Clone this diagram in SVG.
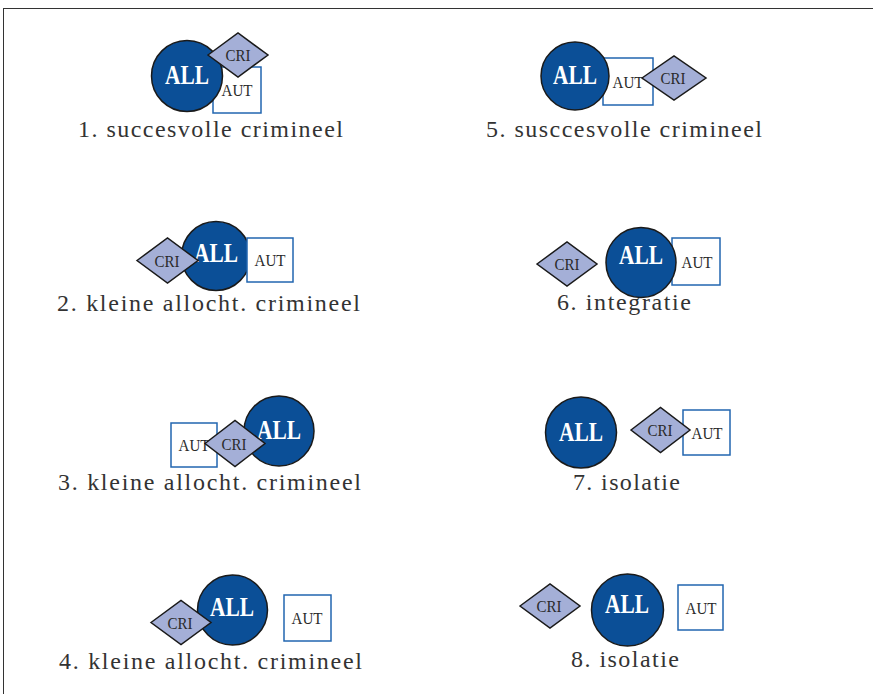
<svg xmlns="http://www.w3.org/2000/svg" width="873" height="694" viewBox="0 0 873 694">
<style>
.all{fill:#0b4f97;stroke:#1a1a1a;stroke-width:1.5}
.cri{fill:#a4afd7;stroke:#1a1a1a;stroke-width:1.5}
.aut{fill:#ffffff;stroke:#2266b0;stroke-width:1.5}
.tall{font-family:"Liberation Serif",serif;font-weight:bold;font-size:27px;fill:#ffffff;text-anchor:middle}
.tsm{font-family:"Liberation Serif",serif;font-size:17px;fill:#2a2a2a;text-anchor:middle}
.lab{font-family:"Liberation Serif",serif;font-size:24px;fill:#333333;text-anchor:middle}
</style>
<rect x="3.5" y="8.5" width="880" height="700" fill="#ffffff" stroke="#333333" stroke-width="1"/>

<g id="panel1">
  <g id="p1-aut"><rect class="aut" x="213" y="67" width="48" height="46"/><text class="tsm" x="237" y="96" textLength="31" lengthAdjust="spacingAndGlyphs">AUT</text></g>
  <g id="p1-all"><circle class="all" cx="187" cy="76" r="35.5"/><text class="tall" x="187" y="84" textLength="44" lengthAdjust="spacingAndGlyphs">ALL</text></g>
  <g id="p1-cri"><polygon class="cri" points="208,55 238,33 268,55 238,77"/><text class="tsm" x="238" y="61" textLength="25" lengthAdjust="spacingAndGlyphs">CRI</text></g>
  <text class="lab" x="210.5" y="137" textLength="265" lengthAdjust="spacing">1. succesvolle crimineel</text>
</g>

<g id="panel5">
  <g id="p5-aut"><rect class="aut" x="603" y="58" width="50" height="47"/><text class="tsm" x="628" y="88" textLength="31" lengthAdjust="spacingAndGlyphs">AUT</text></g>
  <g id="p5-all"><circle class="all" cx="575" cy="76" r="34"/><text class="tall" x="575" y="84" textLength="44" lengthAdjust="spacingAndGlyphs">ALL</text></g>
  <g id="p5-cri"><polygon class="cri" points="642,78 674,56 706,78 674,100"/><text class="tsm" x="673" y="84" textLength="25" lengthAdjust="spacingAndGlyphs">CRI</text></g>
  <text class="lab" x="624" y="137" textLength="276" lengthAdjust="spacing">5. susccesvolle crimineel</text>
</g>

<g id="panel2">
  <g id="p2-all"><circle class="all" cx="216" cy="256" r="34.5"/><text class="tall" x="216" y="262" textLength="44" lengthAdjust="spacingAndGlyphs">ALL</text></g>
  <g id="p2-aut"><rect class="aut" x="247" y="238" width="46" height="44"/><text class="tsm" x="270" y="266" textLength="31" lengthAdjust="spacingAndGlyphs">AUT</text></g>
  <g id="p2-cri"><polygon class="cri" points="137,260.5 167.5,238 198,260.5 167.5,283"/><text class="tsm" x="167" y="267" textLength="25" lengthAdjust="spacingAndGlyphs">CRI</text></g>
  <text class="lab" x="208.5" y="311" textLength="303" lengthAdjust="spacing">2. kleine allocht. crimineel</text>
</g>

<g id="panel6">
  <g id="p6-aut"><rect class="aut" x="672" y="238" width="48" height="47"/><text class="tsm" x="697" y="268" textLength="31" lengthAdjust="spacingAndGlyphs">AUT</text></g>
  <g id="p6-all"><circle class="all" cx="641" cy="262.5" r="35"/><text class="tall" x="641" y="264" textLength="44" lengthAdjust="spacingAndGlyphs">ALL</text></g>
  <g id="p6-cri"><polygon class="cri" points="537,264 567,242 597,264 567,286"/><text class="tsm" x="567" y="270" textLength="25" lengthAdjust="spacingAndGlyphs">CRI</text></g>
  <text class="lab" x="624" y="310" textLength="134" lengthAdjust="spacing">6. integratie</text>
</g>

<g id="panel3">
  <g id="p3-all"><circle class="all" cx="279" cy="431" r="35"/><text class="tall" x="279" y="439" textLength="44" lengthAdjust="spacingAndGlyphs">ALL</text></g>
  <g id="p3-aut"><rect class="aut" x="171" y="423" width="46" height="44"/><text class="tsm" x="194" y="451" textLength="31" lengthAdjust="spacingAndGlyphs">AUT</text></g>
  <g id="p3-cri"><polygon class="cri" points="205,443.5 235,420.5 265,443.5 235,466.5"/><text class="tsm" x="234" y="450" textLength="25" lengthAdjust="spacingAndGlyphs">CRI</text></g>
  <text class="lab" x="209.5" y="490" textLength="303" lengthAdjust="spacing">3. kleine allocht. crimineel</text>
</g>

<g id="panel7">
  <g id="p7-all"><circle class="all" cx="581" cy="432.5" r="35.5"/><text class="tall" x="581" y="441" textLength="44" lengthAdjust="spacingAndGlyphs">ALL</text></g>
  <g id="p7-aut"><rect class="aut" x="683" y="410" width="47" height="45"/><text class="tsm" x="707" y="439" textLength="31" lengthAdjust="spacingAndGlyphs">AUT</text></g>
  <g id="p7-cri"><polygon class="cri" points="631,430 660.5,407.5 690,430 660.5,452.5"/><text class="tsm" x="660" y="436" textLength="25" lengthAdjust="spacingAndGlyphs">CRI</text></g>
  <text class="lab" x="626.5" y="490" textLength="107" lengthAdjust="spacing">7. isolatie</text>
</g>

<g id="panel4">
  <g id="p4-all"><circle class="all" cx="232.5" cy="610" r="35"/><text class="tall" x="232" y="616" textLength="44" lengthAdjust="spacingAndGlyphs">ALL</text></g>
  <g id="p4-aut"><rect class="aut" x="284" y="595" width="47" height="46"/><text class="tsm" x="307" y="624" textLength="31" lengthAdjust="spacingAndGlyphs">AUT</text></g>
  <g id="p4-cri"><polygon class="cri" points="151,622.5 181,600.5 211,622.5 181,644.5"/><text class="tsm" x="180" y="629" textLength="25" lengthAdjust="spacingAndGlyphs">CRI</text></g>
  <text class="lab" x="210.5" y="669" textLength="303" lengthAdjust="spacing">4. kleine allocht. crimineel</text>
</g>

<g id="panel8">
  <g id="p8-all"><circle class="all" cx="627.5" cy="610" r="36"/><text class="tall" x="627" y="613" textLength="44" lengthAdjust="spacingAndGlyphs">ALL</text></g>
  <g id="p8-aut"><rect class="aut" x="678" y="585" width="45" height="45"/><text class="tsm" x="701" y="614" textLength="31" lengthAdjust="spacingAndGlyphs">AUT</text></g>
  <g id="p8-cri"><polygon class="cri" points="520,606 550,584 580,606 550,628"/><text class="tsm" x="549" y="612" textLength="25" lengthAdjust="spacingAndGlyphs">CRI</text></g>
  <text class="lab" x="625" y="667" textLength="108" lengthAdjust="spacing">8. isolatie</text>
</g>

<g id="connectors"></g>
</svg>
